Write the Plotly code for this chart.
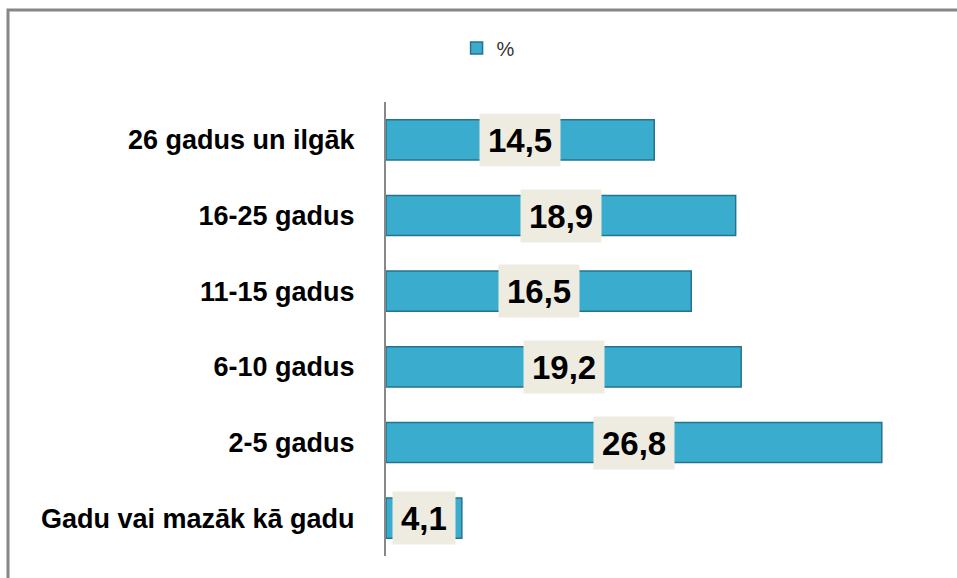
import plotly.graph_objects as go

categories = ["26 gadus un ilgāk", "16-25 gadus", "11-15 gadus", "6-10 gadus", "2-5 gadus", "Gadu vai mazāk kā gadu"]
values = [14.5, 18.9, 16.5, 19.2, 26.8, 4.1]
series_name = "%"

W, H = 957, 578
L, R, T, B = 386, 16, 102, 22
pw, ph = W - L - R, H - T - B

fig = go.Figure()
fig.add_trace(go.Bar(
    x=values, y=categories, orientation="h", name=series_name,
    marker=dict(color="#3AADCF", line=dict(color="#25738C", width=1.5)),
    showlegend=True, hoverinfo="skip",
))

annotations = []
for c, v in zip(categories, values):
    annotations.append(dict(
        x=v / 2, y=c, xref="x", yref="y",
        text=f"{v:.1f}".replace(".", ","), showarrow=False,
        font=dict(family="Liberation Sans", size=33, color="#000000", weight="bold"),
        bgcolor="#EEECE1", borderpad=8, height=36,
        xanchor="center", yanchor="middle",
    ))

def px_x(p):
    return (p - L) / pw

def px_y(p):
    return (H - B - p) / ph

fig.update_layout(
    width=W, height=H,
    margin=dict(l=L, r=R, t=T, b=B),
    paper_bgcolor="white", plot_bgcolor="white",
    bargap=0.47,
    xaxis=dict(range=[0, 30], visible=False, showgrid=False, zeroline=False),
    yaxis=dict(
        type="category", autorange="reversed",
        showline=True, linecolor="#888888", linewidth=2,
        showgrid=False, zeroline=False, ticks="",
        ticklabelstandoff=24,
        tickfont=dict(family="Liberation Sans", size=27, color="#000000", weight="bold"),
    ),
    legend=dict(
        orientation="h", xref="container", yref="container",
        x=0.51, y=1 - 48 / H, xanchor="center", yanchor="middle",
        font=dict(family="Liberation Sans", size=20, color="#333333"),
        bgcolor="rgba(0,0,0,0)",
    ),
    annotations=annotations,
    shapes=[dict(
        type="rect", xref="paper", yref="paper",
        x0=px_x(8), x1=px_x(W + 20), y0=px_y(H + 20), y1=px_y(10),
        line=dict(color="#868686", width=3), fillcolor="rgba(0,0,0,0)", layer="above",
    )],
)

fig.write_html(
    "out.html",
    config={"displayModeBar": False},
    post_script="document.body.style.margin='0';document.body.style.overflow='hidden';",
)
